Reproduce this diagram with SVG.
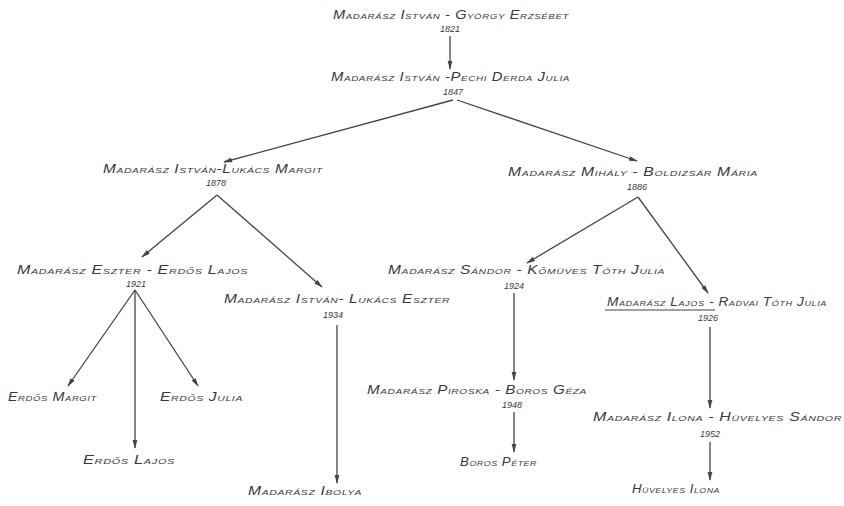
<svg xmlns="http://www.w3.org/2000/svg" width="844" height="506" viewBox="0 0 844 506">
<defs>
<style>
.t{font-family:"Liberation Sans","DejaVu Sans",sans-serif;font-size:12px;font-style:italic;font-variant:small-caps;fill:#3a3a3a;letter-spacing:0.5px}
.y{font-family:"Liberation Sans","DejaVu Sans",sans-serif;font-size:9px;font-style:italic;fill:#3a3a3a;text-anchor:middle}
.c line{stroke:#444;stroke-width:1.3;marker-end:url(#ah)}
</style>
<marker id="ah" viewBox="0 0 10 10" refX="9" refY="5" markerWidth="9" markerHeight="6" markerUnits="userSpaceOnUse" orient="auto" preserveAspectRatio="none">
<path d="M0,1 L10,5 L0,9 z" fill="#444"/>
</marker>
</defs>
<rect width="844" height="506" fill="#fff"/>
<g class="c" id="connectors">
<line x1="450" y1="36" x2="450" y2="69"/>
<line x1="453" y1="100" x2="224" y2="162"/>
<line x1="457" y1="100" x2="637" y2="161"/>
<line x1="217" y1="195" x2="142" y2="257"/>
<line x1="217" y1="195" x2="322" y2="287"/>
<line x1="638" y1="197" x2="527" y2="263"/>
<line x1="638" y1="197" x2="708" y2="293"/>
<line x1="135" y1="290" x2="68" y2="386"/>
<line x1="135" y1="290" x2="135" y2="448"/>
<line x1="135" y1="290" x2="198" y2="386"/>
<line x1="337" y1="325" x2="337" y2="483"/>
<line x1="514" y1="293" x2="514" y2="380"/>
<line x1="514" y1="412" x2="514" y2="452"/>
<line x1="710" y1="327" x2="710" y2="408"/>
<line x1="710" y1="442" x2="710" y2="480"/>
</g>
<g id="n1"><text class="t" x="333" y="19" textLength="236" lengthAdjust="spacingAndGlyphs">Madarász István - György Erzsébet</text><text class="y" x="450" y="32">1821</text></g>
<g id="n2"><text class="t" x="331" y="81" textLength="239" lengthAdjust="spacingAndGlyphs">Madarász István  -Pechi Derda Julia</text><text class="y" x="453" y="95">1847</text></g>
<g id="n3"><text class="t" x="103" y="173" textLength="220" lengthAdjust="spacingAndGlyphs">Madarász István-Lukács Margit</text><text class="y" x="216" y="186">1878</text></g>
<g id="n4"><text class="t" x="508" y="176" textLength="250" lengthAdjust="spacingAndGlyphs">Madarász Mihály - Boldizsár Mária</text><text class="y" x="637" y="190">1886</text></g>
<g id="n5"><text class="t" x="17" y="274" textLength="231" lengthAdjust="spacingAndGlyphs">Madarász Eszter - Erdős Lajos</text><text class="y" x="136" y="287">1921</text></g>
<g id="n6"><text class="t" x="224" y="303" textLength="226" lengthAdjust="spacingAndGlyphs">Madarász István- Lukács Eszter</text><text class="y" x="333" y="318">1934</text></g>
<g id="n7"><text class="t" x="388" y="274" textLength="277" lengthAdjust="spacingAndGlyphs">Madarász Sándor - Kőmüves Tóth Julia</text><text class="y" x="514" y="289">1924</text></g>
<g id="n8"><text class="t" x="607" y="306" textLength="220" lengthAdjust="spacingAndGlyphs">Madarász Lajos - Radvai Tóth Julia</text><line x1="605" y1="310" x2="715" y2="310" stroke="#444" stroke-width="1.2"/><text class="y" x="708" y="321">1926</text></g>
<g id="n9"><text class="t" x="8" y="401" textLength="89" lengthAdjust="spacingAndGlyphs">Erdős Margit</text></g>
<g id="n10"><text class="t" x="160" y="401" textLength="83" lengthAdjust="spacingAndGlyphs">Erdős Julia</text></g>
<g id="n11"><text class="t" x="83" y="464" textLength="92" lengthAdjust="spacingAndGlyphs">Erdős Lajos</text></g>
<g id="n12"><text class="t" x="248" y="495" textLength="114" lengthAdjust="spacingAndGlyphs">Madarász Ibolya</text></g>
<g id="n13"><text class="t" x="367" y="394" textLength="220" lengthAdjust="spacingAndGlyphs">Madarász Piroska - Boros Géza</text><text class="y" x="512" y="408">1948</text></g>
<g id="n14"><text class="t" x="460" y="466" textLength="77" lengthAdjust="spacingAndGlyphs">Boros Péter</text></g>
<g id="n15"><text class="t" x="593" y="421" textLength="249" lengthAdjust="spacingAndGlyphs">Madarász Ilona - Hüvelyes Sándor</text><text class="y" x="710" y="437">1952</text></g>
<g id="n16"><text class="t" x="632" y="493" textLength="88" lengthAdjust="spacingAndGlyphs">Hüvelyes Ilona</text></g>
</svg>
